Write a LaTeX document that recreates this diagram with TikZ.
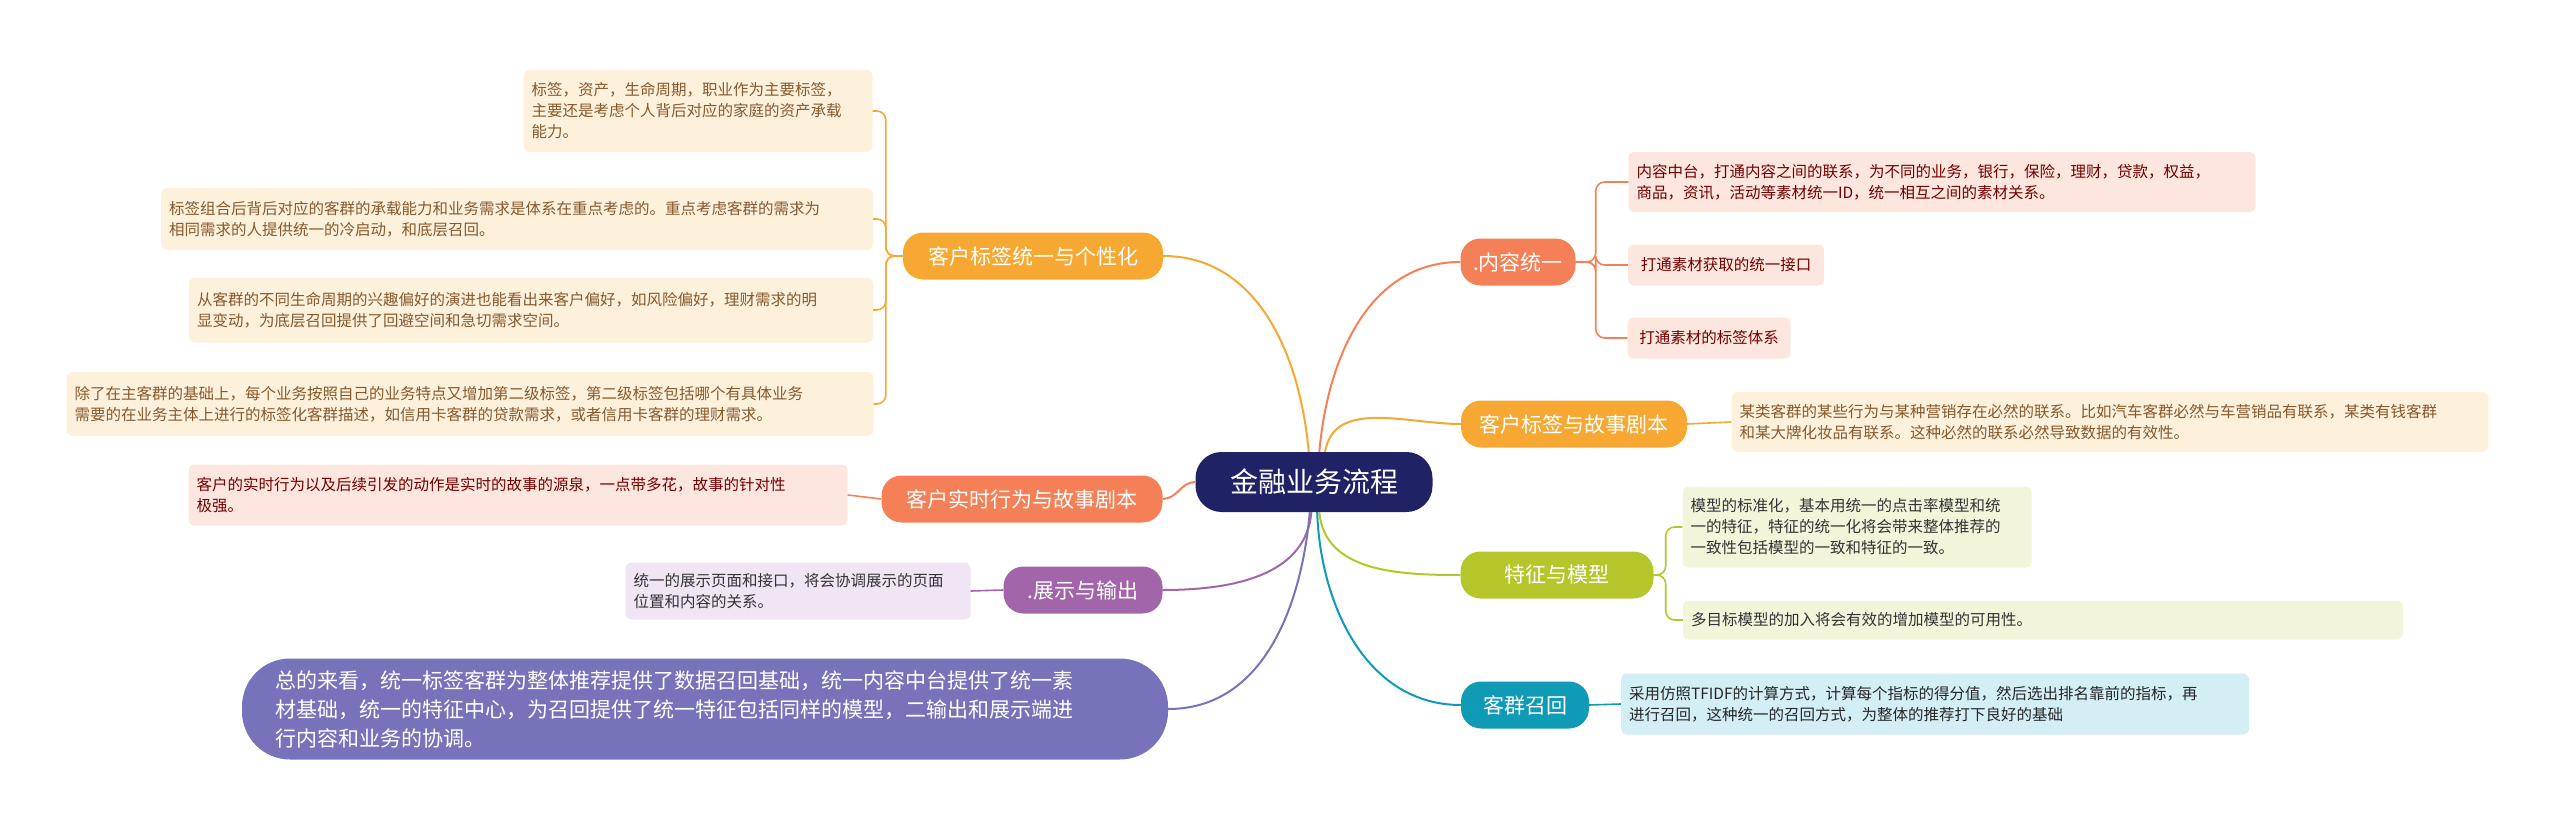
\documentclass[tikz,border=0pt]{standalone}
\usepackage{fontspec}
\setmainfont{Noto Sans CJK SC}
\definecolor{navy}{HTML}{1F2366}
\definecolor{cor}{HTML}{F6A832}
\definecolor{csa}{HTML}{F58058}
\definecolor{cpu}{HTML}{A265A9}
\definecolor{csu}{HTML}{7773BB}
\definecolor{col}{HTML}{B5C62B}
\definecolor{cte}{HTML}{0F9AB6}
\definecolor{lor}{HTML}{FEF1DC}
\definecolor{lsa}{HTML}{FDE6DE}
\definecolor{lpu}{HTML}{F0E6F3}
\definecolor{lol}{HTML}{F2F5DA}
\definecolor{lte}{HTML}{D4EEF5}
\tikzset{
  br/.style={rounded corners=20pt,minimum height=47pt,inner xsep=12pt,text=white,font=\fontsize{21}{26}\selectfont,draw=none},
  lf/.style={rounded corners=6pt,align=left,inner xsep=8pt,font=\fontsize{15.5}{21}\selectfont},
  cn/.style={line width=2pt}
}
\begin{document}
\begin{tikzpicture}[x=1pt,y=-1pt]
\useasboundingbox (0,0) rectangle (2560,832);
\node[fill=navy,rounded corners=26pt,minimum width=237pt,minimum height=60pt,text=white,font=\fontsize{28}{32}\selectfont] (root) at (1314,482) {金融业务流程};
% left branches
\node[br,fill=cor,minimum width=260pt] (b1) at (1033,256) {客户标签统一与个性化};
\node[br,fill=csa,minimum width=281pt] (b2) at (1022,499) {客户实时行为与故事剧本};
\node[br,fill=cpu,minimum width=159pt] (b3) at (1083,590) {.展示与输出};
\node[fill=csu,rounded corners=48pt,minimum width=926pt,minimum height=101pt,text=white,align=left,text width=860pt,font=\fontsize{21}{29}\selectfont] (sum) at (705,709) {总的来看，统一标签客群为整体推荐提供了数据召回基础，统一内容中台提供了统一素\\材基础，统一的特征中心，为召回提供了统一特征包括同样的模型，二输出和展示端进\\行内容和业务的协调。};
% right branches
\node[br,fill=csa,minimum width=115pt] (r1) at (1518,262) {.内容统一};
\node[br,fill=cor,minimum width=226pt] (r2) at (1574,424) {客户标签与故事剧本};
\node[br,fill=col,minimum width=193pt] (r3) at (1557,575) {特征与模型};
\node[br,fill=cte,minimum width=128pt] (r4) at (1525,705) {客群召回};
% left leaves
\node[lf,fill=lor,text=brown!70!black,text width=333pt,minimum height=82pt] (l1) at (698,111) {标签，资产，生命周期，职业作为主要标签，\\主要还是考虑个人背后对应的家庭的资产承载\\能力。};
\node[lf,fill=lor,text=brown!70!black,text width=696pt,minimum height=62pt] (l2) at (517,219) {标签组合后背后对应的客群的承载能力和业务需求是体系在重点考虑的。重点考虑客群的需求为\\相同需求的人提供统一的冷启动，和底层召回。};
\node[lf,fill=lor,text=brown!70!black,text width=668pt,minimum height=65pt] (l3) at (531,310) {从客群的不同生命周期的兴趣偏好的演进也能看出来客户偏好，如风险偏好，理财需求的明\\显变动，为底层召回提供了回避空间和急切需求空间。};
\node[lf,fill=lor,text=brown!70!black,text width=791pt,minimum height=64pt] (l4) at (470,404) {除了在主客群的基础上，每个业务按照自己的业务特点又增加第二级标签，第二级标签包括哪个有具体业务\\需要的在业务主体上进行的标签化客群描述，如信用卡客群的贷款需求，或者信用卡客群的理财需求。};
\node[lf,fill=lsa,text=red!45!black,text width=643pt,minimum height=61pt] (l5) at (518,495) {客户的实时行为以及后续引发的动作是实时的故事的源泉，一点带多花，故事的针对性\\极强。};
\node[lf,fill=lpu,text=black!80,text width=329pt,minimum height=57pt] (l6) at (798,591) {统一的展示页面和接口，将会协调展示的页面\\位置和内容的关系。};
% right leaves
\node[lf,fill=lsa,text=red!45!black,text width=611pt,minimum height=60pt] (q1) at (1942,182) {内容中台，打通内容之间的联系，为不同的业务，银行，保险，理财，贷款，权益，\\商品，资讯，活动等素材统一ID，统一相互之间的素材关系。};
\node[lf,fill=lsa,text=red!45!black,minimum width=196pt,minimum height=41pt] (q2) at (1726,265) {打通素材获取的统一接口};
\node[lf,fill=lsa,text=red!45!black,minimum width=163pt,minimum height=41pt] (q3) at (1709,338) {打通素材的标签体系};
\node[lf,fill=lor,text=brown!70!black,text width=741pt,minimum height=60pt] (q4) at (2110,422) {某类客群的某些行为与某种营销存在必然的联系。比如汽车客群必然与车营销品有联系，某类有钱客群\\和某大牌化妆品有联系。这种必然的联系必然导致数据的有效性。};
\node[lf,fill=lol,text=black!80,text width=333pt,minimum height=81pt] (q5) at (1857,527) {模型的标准化，基本用统一的点击率模型和统\\一的特征，特征的统一化将会带来整体推荐的\\一致性包括模型的一致和特征的一致。};
\node[lf,fill=lol,text=black!80,text width=704pt,minimum height=39pt] (q6) at (2043,620) {多目标模型的加入将会有效的增加模型的可用性。};
\node[lf,fill=lte,text=black!85,text width=612pt,minimum height=61pt] (q7) at (1935,704) {采用仿照TFIDF的计算方式，计算每个指标的得分值，然后选出排名靠前的指标，再\\进行召回，这种统一的召回方式，为整体的推荐打下良好的基础};
% root connectors
\draw[cn,cor] (root.100) to[out=95,in=0] (b1.east);
\draw[cn,csa] (root.west) to[out=180,in=0] (b2.east);
\draw[cn,cpu] (root.265) to[out=-95,in=0] (b3.east);
\draw[cn,csu] (root.262) to[out=-95,in=0] (sum.east);
\draw[cn,csa] (root.80) to[out=85,in=180] (r1.west);
\draw[cn,cor] (root.70) to[out=80,in=180] (r2.west);
\draw[cn,col] (root.280) to[out=-85,in=180] (r3.west);
\draw[cn,cte] (root.276) to[out=-88,in=180] (r4.west);
% leaf connectors
\foreach \l in {l1,l2,l3,l4} \draw[cn,cor,line width=1.6pt,rounded corners=9pt] (b1.west) -- ++(-17,0) |- (\l.east);
\draw[cn,csa,line width=1.6pt] (b2.west) -- (l5.east);
\draw[cn,cpu,line width=1.6pt] (b3.west) -- (l6.east);
\foreach \l in {q1,q2,q3} \draw[cn,csa,line width=1.6pt,rounded corners=9pt] (r1.east) -- ++(20,0) |- (\l.west);
\draw[cn,cor,line width=1.6pt] (r2.east) -- (q4.west);
\foreach \l in {q5,q6} \draw[cn,col,line width=1.6pt,rounded corners=9pt] (r3.east) -- ++(12,0) |- (\l.west);
\draw[cn,cte,line width=1.6pt] (r4.east) -- (q7.west);
\end{tikzpicture}
\end{document}
